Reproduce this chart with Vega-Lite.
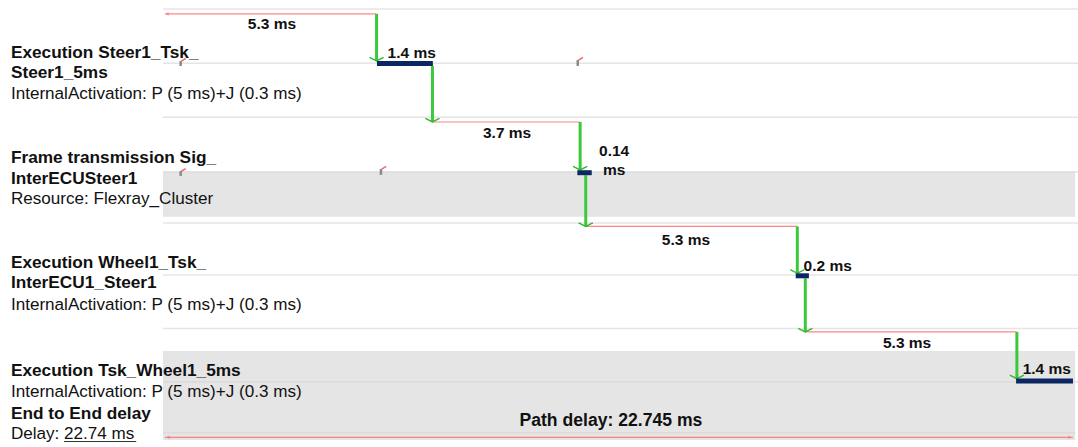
{
  "$schema": "https://vega.github.io/schema/vega-lite/v6.json",
  "width": 1078,
  "height": 447,
  "padding": 0,
  "autosize": "none",
  "background": "white",
  "config": {"view": {"stroke": null}, "font": "Liberation Sans"},
  "datasets": {
    "bands": [
      {"t": -0.05, "t2": 22.8, "y": 3.041, "y2": 3.882},
      {"t": -0.05, "t2": 22.8, "y": 6.393, "y2": 8.056}
    ],
    "grid": [
      {"t": -0.05, "t2": 22.871, "y": 0},
      {"t": -0.05, "t2": 22.871, "y": 1.015},
      {"t": -0.05, "t2": 22.871, "y": 2.024},
      {"t": -0.05, "t2": 22.871, "y": 3.041},
      {"t": -0.05, "t2": 22.871, "y": 4.0},
      {"t": -0.05, "t2": 22.871, "y": 4.972},
      {"t": -0.05, "t2": 22.871, "y": 5.972},
      {"t": -0.05, "t2": 22.871, "y": 6.966},
      {"t": -0.05, "t2": 22.8, "y": 7.92}
    ],
    "redArrows": [
      {"t": 0, "t2": 5.3, "y": 0.093},
      {"t": 6.7, "t2": 10.4, "y": 2.112},
      {"t": 10.54, "t2": 15.84, "y": 4.065},
      {"t": 16.04, "t2": 21.34, "y": 6.037},
      {"t": 0, "t2": 22.745, "y": 8.006}
    ],
    "greenArrows": [
      {"t": 5.3, "y": 0.093, "y2": 0.972},
      {"t": 6.7, "y": 1.065, "y2": 2.112},
      {"t": 10.4, "y": 2.112, "y2": 3.009},
      {"t": 10.54, "y": 3.108, "y2": 4.065},
      {"t": 15.84, "y": 4.065, "y2": 4.94},
      {"t": 16.04, "y": 5.034, "y2": 6.037},
      {"t": 21.34, "y": 6.037, "y2": 6.91}
    ],
    "heads": [
      {"t": 5.3, "y": 0.972},
      {"t": 6.7, "y": 2.112},
      {"t": 10.4, "y": 3.009},
      {"t": 10.54, "y": 4.065},
      {"t": 15.84, "y": 4.94},
      {"t": 16.04, "y": 6.037},
      {"t": 21.34, "y": 6.91}
    ],
    "redHeadsLeft": [
      {"t": 0.05, "y": 0.093},
      {"t": 0.08, "y": 8.006}
    ],
    "redHeadsRight": [
      {"t": 22.67, "y": 8.006}
    ],
    "bars": [
      {"t": 5.31, "t2": 6.71, "y": 1.019},
      {"t": 10.33, "t2": 10.69, "y": 3.06},
      {"t": 15.8, "t2": 16.13, "y": 4.987},
      {"t": 21.32, "t2": 22.745, "y": 6.953}
    ],
    "ticks": [
      {"t": 0.393, "y": 0.972, "y2": 1.065},
      {"t": 10.34, "y": 0.953, "y2": 1.065},
      {"t": 0.393, "y": 3.03, "y2": 3.12},
      {"t": 5.41, "y": 2.99, "y2": 3.1}
    ],
    "hooks": [
      {"t": 0.41, "t2": 0.52, "y": 0.975, "y2": 0.925},
      {"t": 10.36, "t2": 10.47, "y": 0.956, "y2": 0.906},
      {"t": 0.41, "t2": 0.52, "y": 3.033, "y2": 2.983},
      {"t": 5.43, "t2": 5.54, "y": 2.993, "y2": 2.943}
    ],
    "labels": [
      {"t": 2.68, "y": 0.28, "text": "5.3 ms"},
      {"t": 6.18, "y": 0.817, "text": "1.4 ms"},
      {"t": 8.57, "y": 2.312, "text": "3.7 ms"},
      {"t": 11.25, "y": 2.649, "text": "0.14\nms"},
      {"t": 13.05, "y": 4.318, "text": "5.3 ms"},
      {"t": 16.6, "y": 4.804, "text": "0.2 ms"},
      {"t": 18.59, "y": 6.237, "text": "5.3 ms"},
      {"t": 22.09, "y": 6.735, "text": "1.4 ms"}
    ],
    "pathLabel": [
      {"t": 11.17, "y": 7.7, "text": "Path delay: 22.745 ms"}
    ],
    "leftBold": [
      {"t": -3.86, "y": 0.822, "text": "Execution Steer1_Tsk_"},
      {"t": -3.86, "y": 1.202, "text": "Steer1_5ms"},
      {"t": -3.86, "y": 2.79, "text": "Frame transmission Sig_"},
      {"t": -3.86, "y": 3.178, "text": "InterECUSteer1"},
      {"t": -3.86, "y": 4.753, "text": "Execution Wheel1_Tsk_"},
      {"t": -3.86, "y": 5.127, "text": "InterECU1_Steer1"},
      {"t": -3.86, "y": 6.761, "text": "Execution Tsk_Wheel1_5ms"},
      {"t": -3.86, "y": 7.57, "text": "End to End delay"}
    ],
    "leftNormal": [
      {"t": -3.86, "y": 1.594, "text": "InternalActivation: P (5 ms)+J (0.3 ms)"},
      {"t": -3.86, "y": 3.557, "text": "Resource: Flexray_Cluster"},
      {"t": -3.86, "y": 5.533, "text": "InternalActivation: P (5 ms)+J (0.3 ms)"},
      {"t": -3.86, "y": 7.153, "text": "InternalActivation: P (5 ms)+J (0.3 ms)"},
      {"t": -3.86, "y": 7.95, "text": "Delay: 22.74 ms"}
    ],
    "underline": [
      {"t": -2.53, "t2": -0.72, "y": 8.085}
    ]
  },
  "encoding": {
    "x": {"field": "t", "type": "quantitative", "scale": {"domain": [-4.133, 22.871], "nice": false, "zero": false}, "axis": null},
    "y": {"field": "y", "type": "quantitative", "scale": {"domain": [-0.168, 8.187], "nice": false, "zero": false, "reverse": true}, "axis": null}
  },
  "layer": [
    {"data": {"name": "bands"}, "mark": {"type": "rect", "color": "#e5e5e5"},
     "encoding": {"x2": {"field": "t2"}, "y2": {"field": "y2"}}},
    {"data": {"name": "grid"}, "mark": {"type": "rule", "color": "#d4d4d4", "opacity": 0.6, "strokeWidth": 1.5},
     "encoding": {"x2": {"field": "t2"}}},
    {"data": {"name": "redArrows"}, "mark": {"type": "rule", "color": "#ff7070", "opacity": 0.85, "strokeWidth": 1.2},
     "encoding": {"x2": {"field": "t2"}}},
    {"data": {"name": "redHeadsLeft"}, "mark": {"type": "point", "shape": "triangle-left", "filled": true, "color": "#ff7070", "size": 14}},
    {"data": {"name": "redHeadsRight"}, "mark": {"type": "point", "shape": "triangle-right", "filled": true, "color": "#ff7070", "size": 14}},
    {"data": {"name": "ticks"}, "mark": {"type": "rule", "color": "#8a8a8a", "strokeWidth": 2.5},
     "encoding": {"y2": {"field": "y2"}}},
    {"data": {"name": "hooks"}, "mark": {"type": "rule", "color": "#ff6060", "strokeWidth": 1.5},
     "encoding": {"x2": {"field": "t2"}, "y2": {"field": "y2"}}},
    {"data": {"name": "greenArrows"}, "mark": {"type": "rule", "color": "#3cc83c", "strokeWidth": 3},
     "encoding": {"y2": {"field": "y2"}}},
    {"data": {"name": "heads"}, "mark": {"type": "point", "shape": "M-1,-0.5L0,0L1,-0.5", "filled": false, "color": "#2fb82f", "strokeWidth": 1.4, "size": 200, "opacity": 1}},
    {"data": {"name": "bars"}, "mark": {"type": "rule", "color": "#0b2660", "strokeWidth": 5, "strokeCap": "butt"},
     "encoding": {"x2": {"field": "t2"}}},
    {"data": {"name": "labels"}, "mark": {"type": "text", "fontWeight": "bold", "fontSize": 15.5, "align": "center", "baseline": "middle", "color": "#111", "lineBreak": "\n", "lineHeight": 19.5},
     "encoding": {"text": {"field": "text"}}},
    {"data": {"name": "pathLabel"}, "mark": {"type": "text", "fontWeight": "bold", "fontSize": 17.6, "align": "center", "baseline": "middle", "color": "#111"},
     "encoding": {"text": {"field": "text"}}},
    {"data": {"name": "leftBold"}, "mark": {"type": "text", "fontWeight": "bold", "fontSize": 17.25, "align": "left", "baseline": "middle", "color": "#111"},
     "encoding": {"text": {"field": "text"}}},
    {"data": {"name": "leftNormal"}, "mark": {"type": "text", "fontSize": 17.1, "align": "left", "baseline": "middle", "color": "#111"},
     "encoding": {"text": {"field": "text"}}},
    {"data": {"name": "underline"}, "mark": {"type": "rule", "color": "#333", "strokeWidth": 1},
     "encoding": {"x2": {"field": "t2"}}}
  ]
}
